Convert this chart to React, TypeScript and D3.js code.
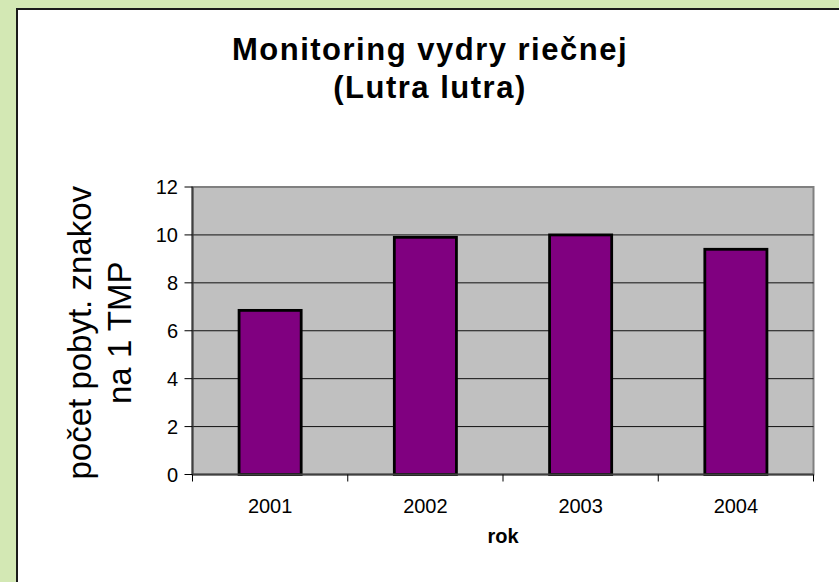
import React from "react";
import * as d3 from "d3";

const years = ["2001", "2002", "2003", "2004"];
const values = [6.85, 9.9, 10.0, 9.4];
const yTicks = [0, 2, 4, 6, 8, 10, 12];
const titleLines = ["Monitoring vydry riečnej", "(Lutra lutra)"];
const yLabelLines = ["počet pobyt. znakov", "na 1 TMP"];
const xLabel = "rok";

const W = 839;
const H = 582;
const plot = { left: 192.5, right: 813.5, top: 187, bottom: 474.5 };

export default function App() {
  const x = d3
    .scaleBand<string>()
    .domain(years)
    .range([plot.left, plot.right])
    .paddingInner(0.6)
    .paddingOuter(0.3);
  const xb = d3.scaleBand<string>().domain(years).range([plot.left, plot.right]);
  const y = d3.scaleLinear().domain([0, 12]).range([plot.bottom, plot.top]);
  const font = "'Liberation Sans', Arial, sans-serif";
  const yMid = (plot.top + plot.bottom) / 2 + 2;

  return (
    <svg
      width={W}
      height={H}
      style={{ position: "absolute", left: 0, top: 0 }}
      fontFamily={font}
    >
      <rect x={0} y={0} width={W} height={H} fill="#d3e8b4" />
      <rect x={17} y={9} width={W} height={H} fill="#ffffff" stroke="#1a1a1a" strokeWidth={2} />

      {titleLines.map((t, i) => (
        <text
          key={t}
          x={430}
          y={60 + i * 38}
          textAnchor="middle"
          fontSize={31}
          fontWeight="bold"
          letterSpacing={1.5}
          fill="#000"
        >
          {t}
        </text>
      ))}

      <rect
        x={plot.left}
        y={plot.top}
        width={plot.right - plot.left}
        height={plot.bottom - plot.top}
        fill="#c0c0c0"
        stroke="#808080"
        strokeWidth={2}
      />
      {yTicks.slice(1, -1).map((v) => (
        <line key={v} x1={plot.left} x2={plot.right} y1={y(v)} y2={y(v)} stroke="#111" strokeWidth={1} />
      ))}

      {years.map((yr, i) => (
        <rect
          key={yr}
          x={x(yr)}
          y={y(values[i])}
          width={x.bandwidth()}
          height={y(0) - y(values[i])}
          fill="#800080"
          stroke="#000"
          strokeWidth={2.8}
        />
      ))}

      <line x1={plot.left} x2={plot.left} y1={plot.top} y2={plot.bottom} stroke="#404040" strokeWidth={2} />
      <line x1={plot.left} x2={plot.right} y1={plot.bottom} y2={plot.bottom} stroke="#404040" strokeWidth={2} />

      {yTicks.map((v) => (
        <g key={v}>
          <line x1={plot.left - 8} x2={plot.left} y1={y(v)} y2={y(v)} stroke="#000" strokeWidth={1} />
          <text x={178} y={y(v)} dy="0.36em" textAnchor="end" fontSize={20} fill="#000">
            {v}
          </text>
        </g>
      ))}

      {[...years.map((yr) => xb(yr) as number), plot.right].map((bx, i) => (
        <line key={i} x1={bx} x2={bx} y1={plot.bottom} y2={plot.bottom + 7} stroke="#000" strokeWidth={1} />
      ))}
      {years.map((yr) => (
        <text
          key={yr}
          x={(x(yr) as number) + x.bandwidth() / 2}
          y={513}
          textAnchor="middle"
          fontSize={20}
          fill="#000"
        >
          {yr}
        </text>
      ))}

      <text x={(plot.left + plot.right) / 2} y={543} textAnchor="middle" fontSize={20} fontWeight="bold" fill="#000">
        {xLabel}
      </text>

      {yLabelLines.map((t, i) => (
        <text
          key={t}
          transform={`translate(${91 + i * 40},${yMid}) rotate(-90)`}
          textAnchor="middle"
          fontSize={33}
          fill="#000"
        >
          {t}
        </text>
      ))}
    </svg>
  );
}
